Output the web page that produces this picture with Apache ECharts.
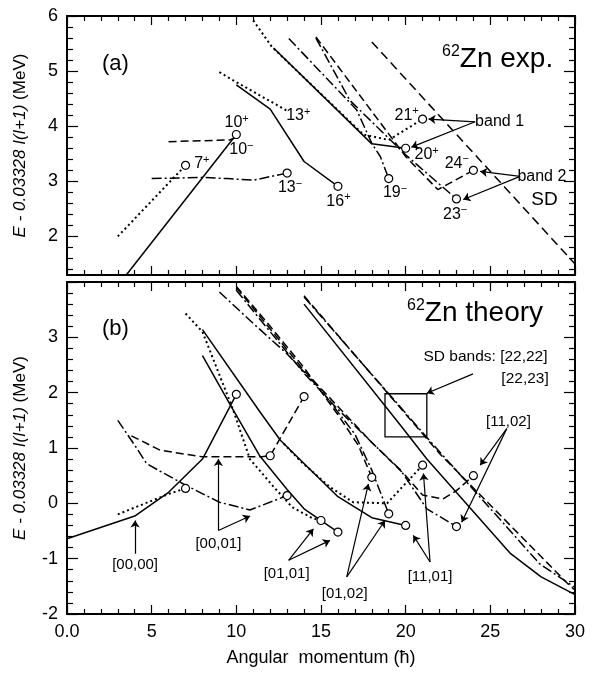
<!DOCTYPE html>
<html>
<head>
<meta charset="utf-8">
<script src="https://cdn.jsdelivr.net/npm/echarts@6/dist/echarts.min.js"></script>
<style>
  html, body { margin: 0; padding: 0; background: #fff; }
  #chart { width: 592px; height: 673px; }
</style>
</head>
<body>
<div id="chart"></div>
<script>
  // ---------- tick labels ----------
  var xTickLabels = ['0.0', '5', '10', '15', '20', '25', '30']
  var yTicksA = [2, 3, 4, 5, 6]
  var yMinorA = [1.4, 1.6, 1.8, 2.2, 2.4, 2.6, 2.8, 3.2, 3.4, 3.6, 3.8, 4.2, 4.4, 4.6, 4.8, 5.2, 5.4, 5.6, 5.8]

  // ---------- panel (a): experiment ----------
  var expPlus10 = [[3.5, 1.3], [10, 3.85]]
  var expPlus7 = [[3, 2.0], [7, 3.29]]
  var expMinus10 = [[6, 3.72], [9.6, 3.75], [10, 3.8]]
  var expMinus13 = [[5, 3.05], [8, 3.07], [9.5, 3.05], [11, 3.02], [13, 3.15]]
  var expPlus13 = [[9, 4.98], [10, 4.8], [13, 4.28]]
  var expPlus16 = [[10, 4.75], [12, 4.31], [14, 3.36], [16, 2.91]]
  var expBand1Odd = [[11, 5.92], [12.1, 5.44], [17.5, 3.85], [19, 3.75], [21, 4.13]]
  var expBand1Even = [[12.2, 5.42], [18, 3.68], [20, 3.6]]
  var expMinus19 = [[13.1, 5.59], [17.1, 4.3], [18, 3.69], [18.5, 3.45], [19, 3.05]]
  var expBand2Odd = [[14.7, 5.6], [16.7, 4.47], [20, 3.48], [23, 2.68]]
  var expBand2Even = [[14.7, 5.62], [20, 3.45], [21.9, 2.85], [24, 3.2]]
  var expSD = [[18, 5.53], [30, 1.5]]
  var expStates = [[7, 3.29], [10, 3.85], [13, 3.15], [16, 2.91], [19, 3.05], [20, 3.6], [21, 4.13], [23, 2.68], [24, 3.2]]
  // [x, y, spin, parity]
  var expStateLabels = [[10.02, 4.06, '10', '+'], [10.3, 3.57, '10', '−'], [7.96, 3.32, '7', '+'],
    [13.66, 4.19, '13', '+'], [13.17, 2.88, '13', '−'], [16.03, 2.64, '16', '+'], [19.37, 2.79, '19', '−'],
    [21.24, 3.48, '20', '+'], [20.06, 4.2, '21', '+'], [23.02, 3.33, '24', '−'], [22.92, 2.4, '23', '−']]
  // [x0, y0, x1, y1]
  var expArrows = [[24.1, 4.08, 21.35, 4.13], [24.1, 4.08, 20.34, 3.62], [26.76, 3.09, 24.4, 3.18], [26.76, 3.09, 23.4, 2.67]]
  var expNotes = [[24.1, 4.08, 'band 1'], [26.6, 3.09, 'band 2']]

  // ---------- panel (b): theory ----------
  var th0000Even = [[0, -0.64], [4, -0.23], [6, 0.2], [8, 0.8], [10, 1.97]]
  var th0000Odd = [[3, -0.2], [6, 0.17], [7, 0.27]]
  var th0001Even = [[3.8, 1.22], [5.5, 0.96], [8, 0.84], [11.5, 0.84], [12, 0.86], [14, 1.93]]
  var th0001Odd = [[3, 1.5], [4, 1.05], [4.7, 0.72], [5.5, 0.58], [7, 0.33], [9, 0.02], [10.8, -0.12], [13, 0.14]]
  var th0101Even = [[8, 2.67], [9.6, 1.8], [11.4, 0.85], [13, 0.25], [14, -0.1], [16, -0.52]]
  var th0101Odd = [[7, 3.43], [8, 3.1], [9.8, 1.7], [10.8, 0.8], [12.2, 0.3], [13.3, -0.07], [14.5, -0.27], [15, -0.31]]
  var th1101Even = [[8, 3.14], [11.4, 1.65], [12.6, 1.14], [13.8, 0.78], [16, 0.12], [18, -0.26], [20, -0.4]]
  var th1101Odd = [[12.8, 1.08], [13.8, 0.76], [15.5, 0.3], [16.9, 0.02], [18.9, 0.0], [21, 0.69]]
  var th0102Even = [[10, 3.92], [12, 3.2], [14, 2.45], [16, 1.6], [17.2, 1.05], [18, 0.47]]
  var th0102Odd = [[9, 3.82], [11, 3.25], [13, 2.7], [15, 2.05], [17, 1.25], [18, 0.6], [19, -0.19]]
  var th1102Even = [[10, 3.9], [12, 3.15], [14, 2.4], [16, 1.75], [18, 1.1], [20, 0.5], [21, 0.15], [22.2, 0.08], [23, 0.23], [24, 0.5]]
  var th1102Odd = [[10, 3.85], [12, 3.1], [14, 2.35], [16, 1.7], [18, 1.1], [19.7, 0.6], [21.25, -0.1], [23, -0.42]]
  var thSD2222 = [[14, 3.6], [19.67, 1.42], [21.25, 0.8], [26.2, -0.91], [28, -1.33], [30, -1.65]]
  var thSD2223a = [[14, 3.73], [21.4, 1.14], [27.9, -1.09], [30, -1.52]]
  var thSD2223b = [[14, 3.75], [22, 0.9], [29.5, -1.43], [30, -1.57]]
  var thStates = [[7, 0.27], [10, 1.97], [12, 0.86], [13, 0.14], [14, 1.93], [15, -0.31], [16, -0.52], [18, 0.47],
    [19, -0.19], [20, -0.4], [21, 0.69], [23, -0.42], [24, 0.5]]
  var sdBox = [[18.78, 1.98], [21.25, 1.2]]
  var thArrows = [[4.02, -0.91, 4.02, -0.31], [8.94, -0.49, 8.94, 0.8], [8.94, -0.49, 10.81, -0.23],
    [13.09, -1.03, 14.55, -0.46], [13.09, -1.03, 15.53, -0.67],
    [16.52, -1.33, 17.8, 0.35], [16.52, -1.33, 18.78, -0.31],
    [21.44, -1.06, 21.05, 0.54], [21.44, -1.06, 20.45, -0.58],
    [25.97, 1.35, 24.4, 0.69], [25.97, 1.35, 23.31, -0.34],
    [23.98, 2.34, 21.25, 1.99]]
  var thNotes = [[4.02, -1.12, '[00,00]'], [8.94, -0.73, '[00,01]'], [12.97, -1.27, '[01,01]'],
    [16.4, -1.63, '[01,02]'], [21.44, -1.33, '[11,01]'], [26.07, 1.47, '[11,02]']]

  var FONT = '"Liberation Sans", Arial, sans-serif'
  var SOLID = {type: 'solid', width: 1.5}
  var DOT = {type: [2, 3], width: 2}
  var DASH = {type: [8, 4], width: 1.5}
  var DASHDOT = {type: [10, 3, 2, 3], width: 1.5}

  function curve (data, st, yi) {
    return {
      type: 'line', xAxisIndex: yi === 0 ? 0 : 2, yAxisIndex: yi, data: data,
      showSymbol: false, symbol: 'none', silent: true, z: 2,
      lineStyle: {color: '#000', width: st.width, type: st.type}
    }
  }
  function circles (data, yi) {
    return {
      type: 'scatter', xAxisIndex: yi === 0 ? 0 : 2, yAxisIndex: yi, data: data, symbol: 'circle', symbolSize: 8, z: 4,
      itemStyle: {color: '#fff', borderColor: '#000', borderWidth: 1.2, opacity: 1}, silent: true
    }
  }
  function arrows (data, yi) {
    return {
      type: 'lines', coordinateSystem: 'cartesian2d', xAxisIndex: yi === 0 ? 0 : 2, yAxisIndex: yi, z: 3,
      symbol: ['none', 'arrow'], symbolSize: 7, silent: true,
      lineStyle: {color: '#000', width: 1.2, opacity: 1},
      data: data.map(function (a) { return {coords: [[a[0], a[1]], [a[2], a[3]]]} })
    }
  }
  function notes (data, yi, size, align) {
    return {
      type: 'scatter', xAxisIndex: yi === 0 ? 0 : 2, yAxisIndex: yi, symbolSize: 1, z: 5, silent: true,
      itemStyle: {color: 'rgba(0,0,0,0)', opacity: 1},
      data: data.map(function (a) { return {value: [a[0], a[1]], txt: a[2]} }),
      label: {show: true, position: 'inside', align: align || 'center',
        formatter: function (p) { return '{t|' + p.data.txt + '}' },
        rich: {t: {fontFamily: FONT, fontSize: size, color: '#000', align: align || 'center'}}}
    }
  }
  function stateLabels (data, yi) {
    return {
      type: 'scatter', xAxisIndex: 0, yAxisIndex: yi, symbolSize: 1, z: 5, silent: true,
      itemStyle: {color: 'rgba(0,0,0,0)', opacity: 1},
      data: data.map(function (a) { return {value: [a[0], a[1]], n: a[2], s: a[3]} }),
      label: {show: true, position: 'inside', color: '#000',
        formatter: function (p) { return '{n|' + p.data.n + '}{s|' + p.data.s + '}' },
        rich: {
          n: {fontFamily: FONT, fontSize: 16, color: '#000'},
          s: {fontFamily: FONT, fontSize: 11, color: '#000', verticalAlign: 'top', padding: [0, 0, 8, 0]}
        }}
    }
  }

  var tickStyle = {color: '#000', width: 1.2}
  function xAxis (grid, pos, labels, name) {
    return {
      type: 'value', gridIndex: grid, position: pos, min: 0, max: 30, interval: 5,
      name: name || '', nameLocation: 'middle', nameGap: 35,
      nameTextStyle: {fontFamily: FONT, fontSize: 18, color: '#000'},
      axisLine: {show: true, onZero: false, lineStyle: {color: '#000', width: 2}},
      axisTick: {show: true, inside: true, length: 9, lineStyle: tickStyle},
      minorTick: {show: true, splitNumber: 5, length: 5, lineStyle: tickStyle},
      axisLabel: {show: labels, margin: 9, fontFamily: FONT, fontSize: 18, color: '#000',
        formatter: function (v) { return xTickLabels[v / 5] }},
      splitLine: {show: false}
    }
  }
  var yName = '{i|E - 0.03328 I(I+1)}{n| (MeV)}'
  var yNameStyle = {
    rich: {
      i: {fontFamily: FONT, fontSize: 17, fontStyle: 'italic', color: '#000'},
      n: {fontFamily: FONT, fontSize: 17, color: '#000'}
    }
  }
  function yAxisA (pos, major, labels) {
    return {
      type: 'value', gridIndex: 0, position: pos, min: 1.3, max: 6,
      name: labels ? yName : '', nameLocation: 'middle', nameGap: 38, nameTextStyle: yNameStyle,
      axisLine: {show: major, onZero: false, lineStyle: {color: '#000', width: 2}},
      axisTick: {show: true, inside: true, length: major ? 11 : 6, lineStyle: tickStyle,
        customValues: major ? yTicksA : yMinorA},
      axisLabel: {show: labels, margin: 9, fontFamily: FONT, fontSize: 18, color: '#000',
        customValues: yTicksA},
      splitLine: {show: false}
    }
  }
  function yAxisB (pos, labels) {
    return {
      type: 'value', gridIndex: 1, position: pos, min: -2, max: 4, interval: 1,
      name: labels ? yName : '', nameLocation: 'middle', nameGap: 38, nameTextStyle: yNameStyle,
      axisLine: {show: true, onZero: false, lineStyle: {color: '#000', width: 2}},
      axisTick: {show: true, inside: true, length: 11, lineStyle: tickStyle},
      minorTick: {show: true, splitNumber: 5, length: 6, lineStyle: tickStyle},
      axisLabel: {show: labels, showMaxLabel: false, margin: 9, fontFamily: FONT, fontSize: 18, color: '#000'},
      splitLine: {show: false}
    }
  }

  var chart = echarts.init(document.getElementById('chart'), null, {renderer: 'canvas'})
  var sdSeries = curve(thSD2222, SOLID, 4)
  sdSeries.markArea = {
    silent: true,
    itemStyle: {color: 'rgba(0,0,0,0)', borderColor: '#000', borderWidth: 1.3},
    data: [[{coord: sdBox[0]}, {coord: sdBox[1]}]]
  }

  chart.setOption({
    animation: false,
    backgroundColor: '#fff',
    textStyle: {fontFamily: FONT},
    grid: [
      {left: 67, top: 16, width: 508, height: 259},
      {left: 67, top: 282, width: 508, height: 332}
    ],
    xAxis: [
      xAxis(0, 'bottom', false), xAxis(0, 'top', false),
      xAxis(1, 'bottom', true, 'Angular  momentum (ħ)'), xAxis(1, 'top', false)
    ],
    yAxis: [
      yAxisA('left', true, true), yAxisA('left', false, false), yAxisA('right', true, false), yAxisA('right', false, false),
      yAxisB('left', true), yAxisB('right', false)
    ],
    graphic: [
      {type: 'text', left: 102, top: 53, style: {text: '(a)', font: '22px ' + FONT, fill: '#000'}},
      {type: 'text', left: 102, top: 318, style: {text: '(b)', font: '22px ' + FONT, fill: '#000'}},
      {type: 'text', left: 442, top: 44, style: {text: '{s|62}{b|Zn exp.}', rich: {
        s: {font: '16px ' + FONT, fill: '#000', verticalAlign: 'top', padding: [0, 0, 14, 0]},
        b: {font: '28px ' + FONT, fill: '#000'}}}},
      {type: 'text', left: 407, top: 298, style: {text: '{s|62}{b|Zn theory}', rich: {
        s: {font: '16px ' + FONT, fill: '#000', verticalAlign: 'top', padding: [0, 0, 14, 0]},
        b: {font: '28px ' + FONT, fill: '#000'}}}}
    ],
    series: [
      curve(expPlus10, SOLID, 0), curve(expPlus7, DOT, 0), curve(expMinus10, DASH, 0), curve(expMinus13, DASHDOT, 0),
      curve(expPlus13, DOT, 0), curve(expPlus16, SOLID, 0), curve(expBand1Odd, DOT, 0), curve(expBand1Even, SOLID, 0),
      curve(expMinus19, DASHDOT, 0), curve(expBand2Odd, DASHDOT, 0), curve(expBand2Even, DASH, 0),
      curve(expSD, {type: [9, 5], width: 1.5}, 0),
      circles(expStates, 0), arrows(expArrows, 0), stateLabels(expStateLabels, 0),
      notes(expNotes, 0, 16, 'left'), notes([[28.2, 2.67, 'SD']], 0, 19),

      curve(th0000Even, SOLID, 4), curve(th0000Odd, DOT, 4), curve(th0001Even, DASH, 4), curve(th0001Odd, DASHDOT, 4),
      curve(th0101Even, SOLID, 4), curve(th0101Odd, DOT, 4), curve(th1101Even, SOLID, 4), curve(th1101Odd, DOT, 4),
      curve(th0102Even, DASH, 4), curve(th0102Odd, DASHDOT, 4), curve(th1102Even, DASH, 4), curve(th1102Odd, DASHDOT, 4),
      sdSeries, curve(thSD2223a, DASHDOT, 4), curve(thSD2223b, DASH, 4),
      circles(thStates, 4), arrows(thArrows, 4), notes(thNotes, 4, 15),
      notes([[21.05, 2.65, 'SD bands: [22,22]']], 4, 15.5, 'left'), notes([[28.45, 2.26, '[22,23]']], 4, 15.5, 'right')
    ]
  })
</script>
</body>
</html>
